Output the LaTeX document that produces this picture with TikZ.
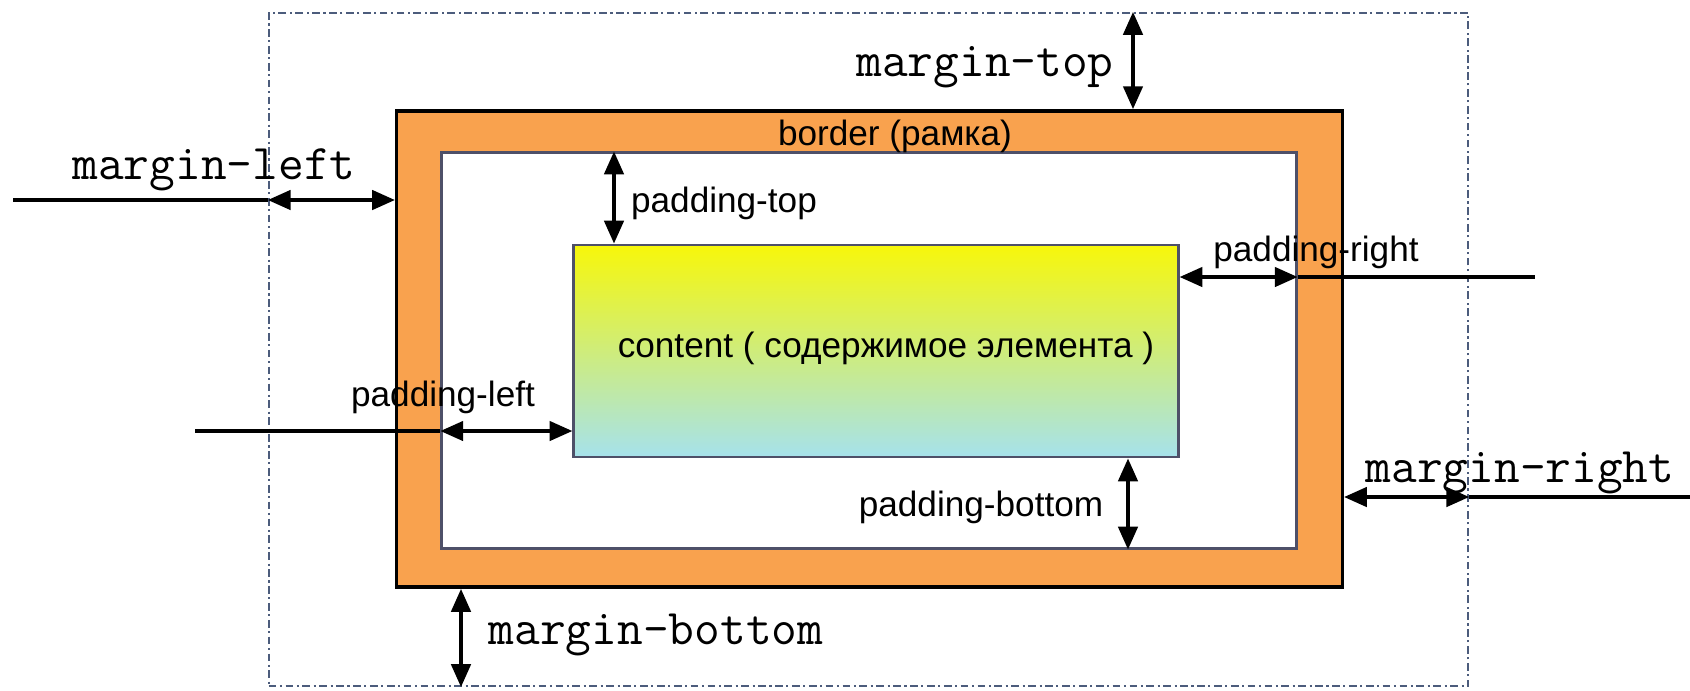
\documentclass[tikz,border=0pt]{standalone}
\usepackage{fontspec}
\setmainfont{Liberation Sans}
\usepackage{xcolor}
\usetikzlibrary{arrows.meta}

\definecolor{borderorange}{HTML}{F9A24E}
\definecolor{contenttop}{HTML}{F7F70A}
\definecolor{contentbot}{HTML}{A6E2EC}
\definecolor{dashblue}{HTML}{4C5C7C}
\definecolor{edgegray}{HTML}{4E5068}

\tikzset{
    box/.style={rectangle, inner sep=0pt},
    dim/.style={<->, line width=1pt},
    lead/.style={line width=1pt},
    monolabel/.style={font=\fontsize{14.2}{16}\ttfamily, inner sep=0pt},
    sanslabel/.style={font=\fontsize{10}{12}\selectfont, inner sep=0pt},
    >={Triangle[length=6.5pt,width=5.5pt]}
}

\begin{document}
\begin{tikzpicture}[x=0.01cm, y=-0.01cm]
            \useasboundingbox (0,0) rectangle (1690,690);
            % boxes
            \node[box, draw=dashblue, line width=0.5pt, dash pattern=on 2.2pt off 1pt on 0.6pt off 1pt, minimum width=11.99cm, minimum height=6.73cm](marginbox) at (868.5,349.5){};
            \node[box, draw=black, fill=borderorange, line width=1pt, minimum width=9.45cm, minimum height=4.76cm](borderbox) at (869.5,349){};
            \node[box, draw=edgegray, fill=white, line width=0.8pt, minimum width=8.54cm, minimum height=3.95cm](paddingbox) at (869,350.5){};
            \node[box, draw=edgegray, top color=contenttop, bottom color=contentbot, line width=0.8pt, minimum width=6.04cm, minimum height=2.12cm](contentbox) at (876,351){};
            \node[sanslabel](contenttext) at (886,348){content ( содержимое элемента )};
            \node[sanslabel](bordertext) at (895,136){border (рамка)};
            % free ends of the long lines
            \coordinate (mlfree) at (13,200);
            \coordinate (plfree) at (195,431);
            \coordinate (prfree) at (1535,277);
            \coordinate (mrfree) at (1690,497);
            \coordinate (mtx) at (1133,0);
            \coordinate (ptx) at (614,0);
            \coordinate (pbx) at (1128,0);
            \coordinate (mbx) at (461,0);
            % margin-left
            \draw[lead] (mlfree) -- (marginbox.west |- mlfree);
            \draw[dim] (marginbox.west |- mlfree) -- (borderbox.west |- mlfree);
            \node[monolabel](mltext) at (214,170){margin-left};
            % margin-top
            \draw[dim] (marginbox.north -| mtx) -- (borderbox.north -| mtx);
            \node[monolabel](mttext) at (985,67){margin-top};
            % padding-top
            \draw[dim] (paddingbox.north -| ptx) -- (contentbox.north -| ptx);
            \node[sanslabel](pttext) at (724,203){padding-top};
            % padding-right
            \draw[dim] (contentbox.east |- prfree) -- (paddingbox.east |- prfree);
            \draw[lead] (paddingbox.east |- prfree) -- (prfree);
            \node[sanslabel](prtext) at (1316,252){padding-right};
            % padding-left
            \draw[lead] (plfree) -- (paddingbox.west |- plfree);
            \draw[dim] (paddingbox.west |- plfree) -- (contentbox.west |- plfree);
            \node[sanslabel](pltext) at (443,397){padding-left};
            % padding-bottom
            \draw[dim] (contentbox.south -| pbx) -- (paddingbox.south -| pbx);
            \node[sanslabel](pbtext) at (981,507){padding-bottom};
            % margin-right
            \draw[dim] (borderbox.east |- mrfree) -- (marginbox.east |- mrfree);
            \draw[lead] (marginbox.east |- mrfree) -- (mrfree);
            \node[monolabel](mrtext) at (1520,473){margin-right};
            % margin-bottom
            \draw[dim] (borderbox.south -| mbx) -- (marginbox.south -| mbx);
            \node[monolabel](mbtext) at (656,635){margin-bottom};
        \end{tikzpicture}
\end{document}
